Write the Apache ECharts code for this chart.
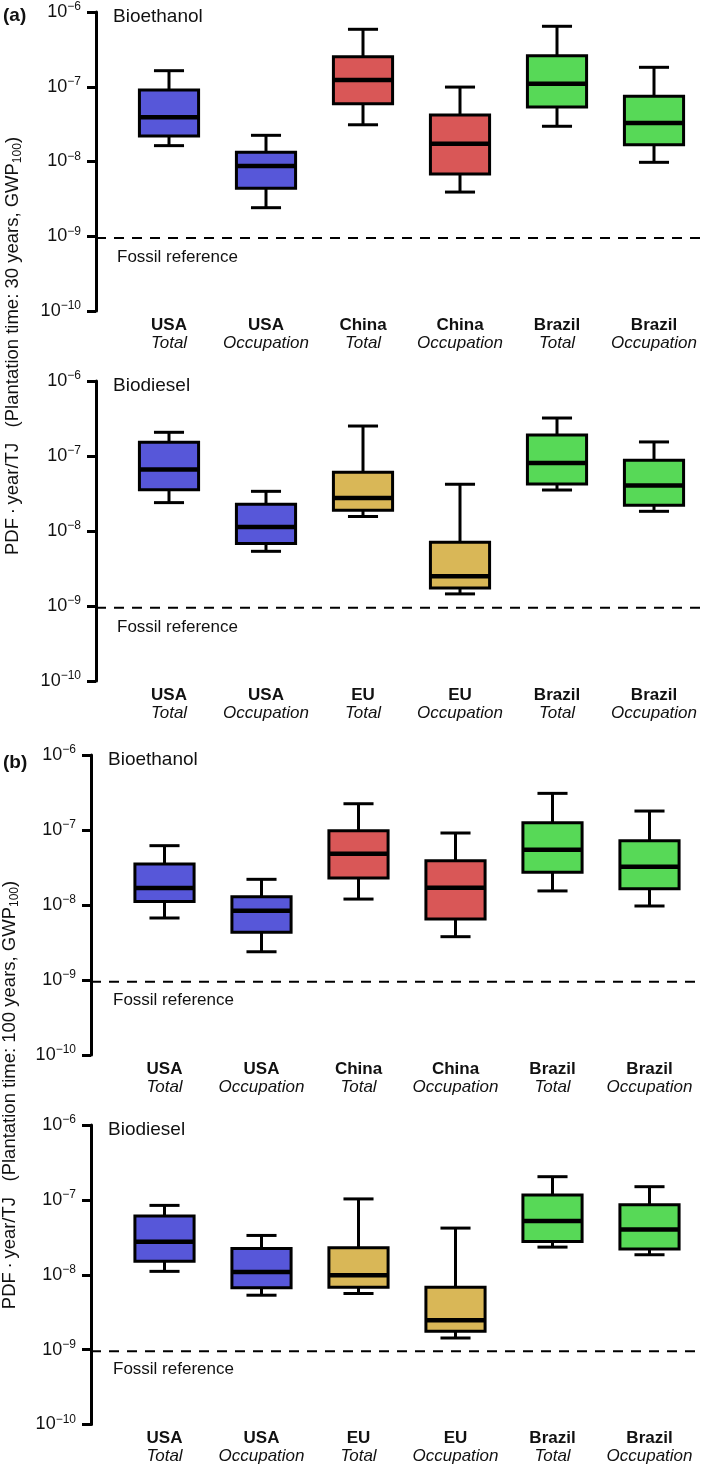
<!DOCTYPE html>
<html><head><meta charset="utf-8">
<script src="https://cdn.jsdelivr.net/npm/echarts@6/dist/echarts.min.js"></script>
<style>html,body{margin:0;padding:0;background:#fff}#c{width:709px;height:1468px}</style>
</head><body><div id="c"></div>
<script>
// ---------- data ----------
const ethanolCountries = ['USA', 'USA', 'China', 'China', 'Brazil', 'Brazil'];
const dieselCountries  = ['USA', 'USA', 'EU', 'EU', 'Brazil', 'Brazil'];
const measures = ['Total', 'Occupation', 'Total', 'Occupation', 'Total', 'Occupation'];
const yTickExponents = [-10, -9, -8, -7, -6];
const fossilReference = 0.95e-9;

// each row: [lower whisker, Q1, median, Q3, upper whisker]  (PDF·year/TJ)
const a30Bioethanol = [
  [1.63e-8, 2.19e-8, 3.90e-8, 9.05e-8, 1.64e-7],
  [2.41e-9, 4.38e-9, 8.70e-9, 1.33e-8, 2.24e-8],
  [3.10e-8, 5.93e-8, 1.23e-7, 2.52e-7, 5.87e-7],
  [3.90e-9, 6.80e-9, 1.73e-8, 4.19e-8, 9.90e-8],
  [2.96e-8, 5.36e-8, 1.10e-7, 2.60e-7, 6.44e-7],
  [9.75e-9, 1.68e-8, 3.27e-8, 7.45e-8, 1.82e-7]
];
const a30Biodiesel = [
  [2.39e-8, 3.56e-8, 6.59e-8, 1.52e-7, 2.07e-7],
  [5.36e-9, 6.79e-9, 1.13e-8, 2.27e-8, 3.38e-8],
  [1.56e-8, 1.89e-8, 2.75e-8, 6.07e-8, 2.51e-7],
  [1.45e-9, 1.74e-9, 2.49e-9, 7.07e-9, 4.20e-8],
  [3.52e-8, 4.24e-8, 8.07e-8, 1.90e-7, 3.21e-7],
  [1.83e-8, 2.20e-8, 4.03e-8, 8.77e-8, 1.54e-7]
];
const b100Bioethanol = [
  [6.71e-9, 1.11e-8, 1.69e-8, 3.52e-8, 6.18e-8],
  [2.38e-9, 4.33e-9, 8.40e-9, 1.29e-8, 2.20e-8],
  [1.20e-8, 2.29e-8, 4.83e-8, 9.79e-8, 2.24e-7],
  [3.78e-9, 6.50e-9, 1.70e-8, 3.90e-8, 9.12e-8],
  [1.54e-8, 2.73e-8, 5.46e-8, 1.25e-7, 3.08e-7],
  [9.70e-9, 1.65e-8, 3.24e-8, 7.20e-8, 1.79e-7]
];
const b100Biodiesel = [
  [1.11e-8, 1.52e-8, 2.75e-8, 6.07e-8, 8.44e-8],
  [5.33e-9, 6.68e-9, 1.09e-8, 2.25e-8, 3.35e-8],
  [5.62e-9, 6.83e-9, 9.88e-9, 2.29e-8, 1.03e-7],
  [1.43e-9, 1.76e-9, 2.47e-9, 6.83e-9, 4.20e-8],
  [2.34e-8, 2.79e-8, 5.21e-8, 1.16e-7, 2.04e-7],
  [1.85e-8, 2.20e-8, 4.03e-8, 8.60e-8, 1.50e-7]
];

// ---------- styles / layout ----------
const countryColor = { USA: '#5757D9', China: '#D95757', EU: '#D9B757', Brazil: '#57D957' };
const FONT = '"Liberation Sans", Arial, Helvetica, sans-serif';

const panels = [
  { data: a30Bioethanol, countries: ethanolCountries, title: 'Bioethanol', top: 12,   height: 299, axisX: 96, boxLeft: 120.5, lineRight: 2 },
  { data: a30Biodiesel,  countries: dieselCountries,  title: 'Biodiesel',  top: 381,  height: 300, axisX: 96, boxLeft: 120.5, lineRight: 2 },
  { data: b100Bioethanol, countries: ethanolCountries, title: 'Bioethanol', top: 755,  height: 300, axisX: 91, boxLeft: 116, lineRight: 6 },
  { data: b100Biodiesel,  countries: dieselCountries,  title: 'Biodiesel',  top: 1125, height: 299.5, axisX: 91, boxLeft: 116, lineRight: 6 }
];

const grids = [], xAxes = [], yAxes = [], series = [], graphics = [];

panels.forEach((p, k) => {
  const gA = 2 * k, gB = 2 * k + 1;
  grids.push({ left: p.axisX, right: p.lineRight, top: p.top, height: p.height });
  grids.push({ left: p.boxLeft, width: 582, top: p.top, height: p.height });

  xAxes.push({ gridIndex: gA, type: 'value', min: 0, max: 1, show: false });
  xAxes.push({
    gridIndex: gB, type: 'category',
    data: p.countries.map((c, i) => c + '|' + measures[i]),
    axisLine: { show: false }, axisTick: { show: false }, splitLine: { show: false },
    axisLabel: {
      margin: 5, interval: 0,
      formatter: v => { const s = v.split('|'); return '{c|' + s[0] + '}\n{t|' + s[1] + '}'; },
      rich: {
        c: { fontFamily: FONT, fontWeight: 'bold', fontSize: 17, lineHeight: 18, color: '#111' },
        t: { fontFamily: FONT, fontStyle: 'italic', fontSize: 17, lineHeight: 18, color: '#111' }
      }
    }
  });

  yAxes.push({
    gridIndex: gA, type: 'log', logBase: 10, min: 1e-10, max: 1e-6,
    axisLine: { show: true, lineStyle: { color: '#000', width: 3 } },
    axisTick: { show: true, length: 9, lineStyle: { color: '#000', width: 3 } },
    splitLine: { show: false },
    axisLabel: {
      margin: 15, showMinLabel: true, showMaxLabel: true,
      formatter: v => {
        const e = Math.round(Math.log10(v));
        return yTickExponents.indexOf(e) >= 0 ? '{b|10}{s|\u2212' + Math.abs(e) + '}' : '';
      },
      rich: {
        b: { fontFamily: FONT, fontSize: 18, lineHeight: 22, color: '#111' },
        s: { fontFamily: FONT, fontSize: 12, lineHeight: 12, verticalAlign: 'top', color: '#111' }
      }
    }
  });
  yAxes.push({ gridIndex: gB, type: 'log', logBase: 10, min: 1e-10, max: 1e-6, show: false });

  series.push({
    type: 'line', xAxisIndex: gA, yAxisIndex: gA, symbol: 'none', silent: true,
    data: [[0, fossilReference], [1, fossilReference]],
    lineStyle: { color: '#000', width: 2, type: [10, 8] }
  });

  const colors = p.countries.map(c => countryColor[c]);
  series.push({
    type: 'custom', xAxisIndex: gB, yAxisIndex: gB,
    encode: { x: 0, y: [1, 2, 3, 4, 5] },
    data: p.data.map((d, i) => [i].concat(d)),
    renderItem: (params, api) => {
      const i = api.value(0);
      const lo = api.coord([i, api.value(1)]);
      const q1 = api.coord([i, api.value(2)]);
      const md = api.coord([i, api.value(3)]);
      const q3 = api.coord([i, api.value(4)]);
      const hi = api.coord([i, api.value(5)]);
      const band = api.size([1, 0])[0];
      const bw = band * 0.61, cw = band * 0.31;
      const x = lo[0];
      const ls = { stroke: '#000', lineWidth: 3, fill: null };
      return {
        type: 'group',
        children: [
          { type: 'line', shape: { x1: x, y1: hi[1], x2: x, y2: q3[1] }, style: ls },
          { type: 'line', shape: { x1: x, y1: q1[1], x2: x, y2: lo[1] }, style: ls },
          { type: 'line', shape: { x1: x - cw / 2, y1: hi[1], x2: x + cw / 2, y2: hi[1] }, style: ls },
          { type: 'line', shape: { x1: x - cw / 2, y1: lo[1], x2: x + cw / 2, y2: lo[1] }, style: ls },
          { type: 'rect', shape: { x: x - bw / 2, y: q3[1], width: bw, height: q1[1] - q3[1] },
            style: { fill: colors[params.dataIndex], stroke: '#000', lineWidth: 3 } },
          { type: 'line', shape: { x1: x - bw / 2, y1: md[1], x2: x + bw / 2, y2: md[1] },
            style: { stroke: '#000', lineWidth: 4.5 } }
        ]
      };
    }
  });

  graphics.push({
    type: 'text', left: p.axisX + 17, top: p.top - 5,
    style: { text: p.title, font: '19px ' + FONT, fill: '#111' }
  });
});

// fossil reference labels (text annotations)
[[117, 249], [117, 619], [113, 992], [113, 1361]].forEach(pos => {
  graphics.push({ type: 'text', left: pos[0], top: pos[1],
    style: { text: 'Fossil reference', font: '17px ' + FONT, fill: '#111' } });
});

// panel letters
graphics.push({ type: 'text', left: 3, top: 6, style: { text: '(a)', font: 'bold 19px ' + FONT, fill: '#111' } });
graphics.push({ type: 'text', left: 3, top: 753, style: { text: '(b)', font: 'bold 19px ' + FONT, fill: '#111' } });

// y-axis titles
function yTitle(years, cx, cy) {
  return {
    type: 'text', x: cx, y: cy, rotation: Math.PI / 2,
    style: {
      text: '{n|PDF\u2009\u00b7\u2009year/TJ   (Plantation time: ' + years + ' years, GWP}{sub|100}{n|)}',
      align: 'center', verticalAlign: 'middle',
      rich: {
        n: { fontFamily: FONT, fontSize: 18.5, lineHeight: 22, fill: '#111' },
        sub: { fontFamily: FONT, fontSize: 12, lineHeight: 14, verticalAlign: 'bottom', fill: '#111' }
      }
    }
  };
}
graphics.push(yTitle(30, 12.5, 346));
graphics.push(yTitle(100, 10, 1095));

const chart = echarts.init(document.getElementById('c'), null, { renderer: 'canvas' });
chart.setOption({
  animation: false,
  backgroundColor: '#fff',
  grid: grids, xAxis: xAxes, yAxis: yAxes, series: series, graphic: graphics
});
</script></body></html>
